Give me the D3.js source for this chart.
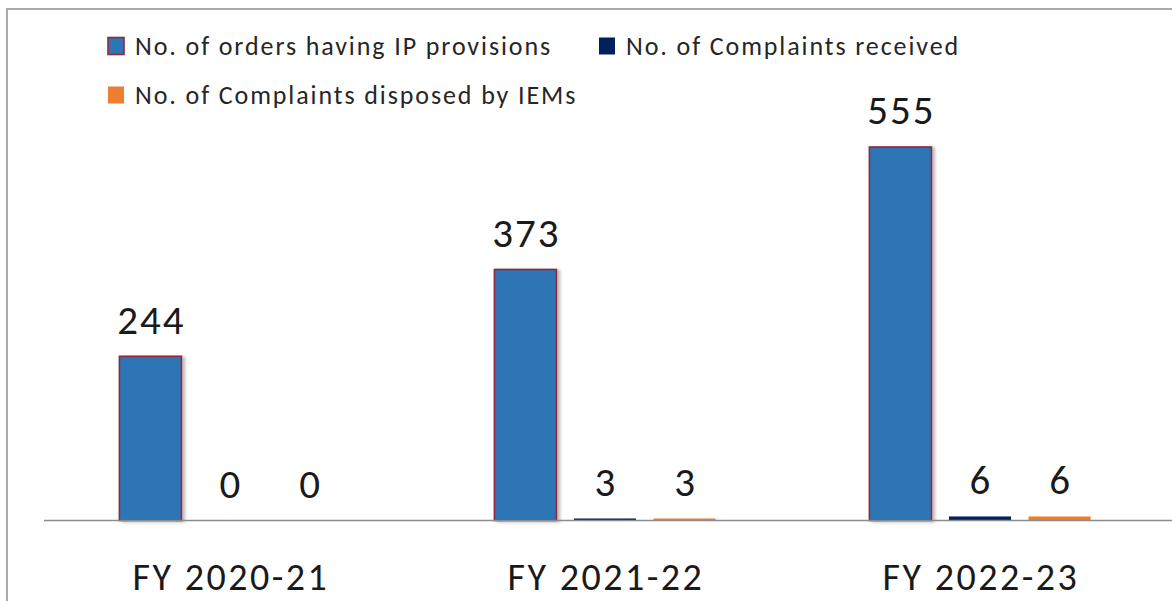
<!DOCTYPE html>
<html>
<head>
<meta charset="utf-8">
<script src="https://cdn.jsdelivr.net/npm/d3@7"></script>
<style>
  html, body { margin: 0; padding: 0; background: #fff; }
  svg { display: block; }
</style>
</head>
<body>
<div class="chart-wrapper"></div>
<script>
// data
const years = ['FY 2020-21', 'FY 2021-22', 'FY 2022-23'];
const seriesNames = ['No. of orders having IP provisions', 'No. of Complaints received', 'No. of Complaints disposed by IEMs'];
const ordersIP = [244, 373, 555];
const complaintsReceived = [0, 3, 6];
const complaintsDisposed = [0, 3, 6];

const seriesValues = [ordersIP, complaintsReceived, complaintsDisposed];
const colors = ['#2E75B6', '#002060', '#ED7D31'];

var width = 1172, height = 601, base = 520.5;
var font = "Carlito, Calibri, Lato, sans-serif";

const svg = d3.select(".chart-wrapper").append('svg')
    .attr('width', width).attr('height', height)
    .attr('viewBox', '0 0 ' + width + ' ' + height);

// frame (left + top edges only are visible)
svg.append('path')
    .attr('d', 'M7,' + height + ' V9 H' + width)
    .attr('fill', 'none')
    .attr('stroke', '#ababab')
    .attr('stroke-width', 2);

// scales
const x0 = d3.scaleBand()
    .domain(years)
    .range([42.5, 1167.5])
    .paddingInner(0.41)
    .paddingOuter(0.205);

const x1 = d3.scaleBand()
    .domain(seriesNames)
    .range([0, x0.bandwidth()])
    .paddingInner(0.22);

const y = d3.scaleLinear()
    .domain([0, 600])
    .range([base, base - 600 * 0.673]);

var defs = svg.append('defs');
var shadow = defs.append('filter').attr('id', 'shadow')
    .attr('x', '-10%').attr('y', '-10%').attr('width', '130%').attr('height', '120%');
shadow.append('feDropShadow')
    .attr('dx', 3).attr('dy', 1).attr('stdDeviation', 1.5)
    .attr('flood-color', '#000').attr('flood-opacity', 0.25);

// rows: one entry per (year, series)
var rows = [];
years.forEach(function(yr, i) {
    seriesNames.forEach(function(s, j) {
        rows.push({ year: yr, series: s, si: j, value: seriesValues[j][i] });
    });
});

const groups = svg.append('g').attr('class', 'bars');

groups.selectAll('rect')
    .data(rows.filter(function(d) { return d.value > 0; }))
    .join('rect')
        .attr('x', function(d) { return x0(d.year) + x1(d.series); })
        .attr('y', function(d) { return y(d.value); })
        .attr('width', x1.bandwidth())
        .attr('height', function(d) { return base - y(d.value); })
        .attr('fill', function(d) { return colors[d.si]; })
        .attr('stroke', function(d) { return d.si == 0 ? '#8E2A3A' : 'none'; })
        .attr('stroke-width', 1.6)
        .attr('filter', function(d) { return d.si == 0 ? 'url(#shadow)' : null; });

// baseline
svg.append('line')
    .attr('x1', 44).attr('x2', width)
    .attr('y1', base).attr('y2', base)
    .attr('stroke', '#8c8c8c')
    .attr('stroke-width', 1.5);

// value labels
svg.append('g').selectAll('text')
    .data(rows)
    .join('text')
        .attr('x', function(d) { return x0(d.year) + x1(d.series) + x1.bandwidth() / 2 + 1; })
        .attr('y', function(d) { return Math.min(y(d.value), base) - 22.5; })
        .attr('text-anchor', 'middle')
        .style('font-family', font)
        .style('font-size', '41px')
        .style('letter-spacing', '2px')
        .style('fill', '#1a1a1a')
        .text(function(d) { return d.value; });

// category labels
svg.append('g').selectAll('text')
    .data(years)
    .join('text')
        .attr('x', function(d) { return x0(d) + x0.bandwidth() / 2 + 1; })
        .attr('y', 590)
        .attr('text-anchor', 'middle')
        .style('font-family', font)
        .style('font-size', '38px')
        .style('letter-spacing', '2.5px')
        .style('fill', '#1a1a1a')
        .text(function(d) { return d; });

// legend
var legendPos = [[108, 46], [599, 46], [108, 95]];
var legend = svg.append('g').attr('class', 'legend');

legend.selectAll('rect')
    .data(seriesNames)
    .join('rect')
        .attr('x', function(d, i) { return legendPos[i][0]; })
        .attr('y', function(d, i) { return legendPos[i][1] - 8.5; })
        .attr('width', 16)
        .attr('height', 17)
        .attr('fill', function(d, i) { return colors[i]; })
        .attr('stroke', function(d, i) { return i == 0 ? '#8E2A3A' : 'none'; })
        .attr('stroke-width', 1.6);

legend.selectAll('text')
    .data(seriesNames)
    .join('text')
        .attr('x', function(d, i) { return legendPos[i][0] + 27; })
        .attr('y', function(d, i) { return legendPos[i][1] + 9; })
        .style('font-family', font)
        .style('font-size', '26px')
        .style('letter-spacing', '1.9px')
        .style('fill', '#262626')
        .text(function(d) { return d; });
</script>
</body>
</html>
